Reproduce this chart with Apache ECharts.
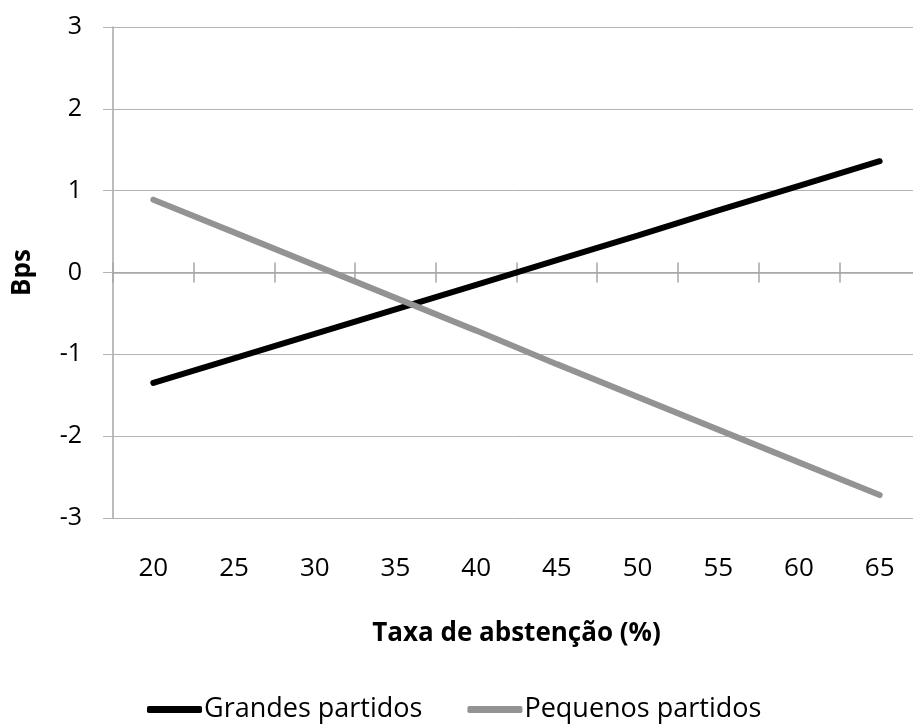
<!DOCTYPE html>
<html><head><meta charset="utf-8">
<script src="https://cdn.jsdelivr.net/npm/echarts@6/dist/echarts.min.js"></script>
<style>html,body{margin:0;padding:0;background:#fff}#c{width:913px;height:724px}</style>
</head><body><div id="c"></div>
<script>
const categories = ['20','25','30','35','40','45','50','55','60','65'];
const grandes = [-1.35, -1.05, -0.75, -0.45, -0.15, 0.15, 0.45, 0.76, 1.06, 1.36];
const pequenos = [0.89, 0.49, 0.09, -0.31, -0.71, -1.12, -1.52, -1.92, -2.32, -2.72];
const seriesNames = ['Grandes partidos', 'Pequenos partidos'];
const xTitle = 'Taxa de abstenção (%)';
const yTitle = 'Bps';

const FONT = 'Open Sans';
const chart = echarts.init(document.getElementById('c'));
const axisGray = '#a6a6a6';
chart.setOption({
  animation: false,
  grid: { left: 113, top: 27, width: 807, height: 491, containLabel: false, outerBoundsMode: 'none' },
  xAxis: [
    { type: 'category', data: categories, boundaryGap: true, position: 'bottom',
      axisLine: { onZero: true, lineStyle: { color: axisGray, width: 1.5 } },
      axisTick: { show: true, inside: false, length: 10, lineStyle: { color: axisGray, width: 1.5 } },
      axisLabel: { show: false }, splitLine: { show: false } },
    { type: 'category', data: categories, boundaryGap: true, position: 'bottom', offset: -245.5,
      axisLine: { show: false, onZero: false },
      axisTick: { show: true, inside: true, length: 10, lineStyle: { color: axisGray, width: 1.5 } },
      axisLabel: { show: false }, splitLine: { show: false } },
    { type: 'category', data: categories, boundaryGap: true, position: 'bottom',
      axisLine: { show: false, onZero: false }, axisTick: { show: false },
      axisLabel: { show: true, margin: 38, fontFamily: FONT, fontSize: 26, color: '#000' },
      name: xTitle, nameLocation: 'middle', nameGap: 103,
      nameTextStyle: { fontFamily: FONT, fontSize: 26, fontWeight: 'bold', color: '#000' },
      splitLine: { show: false } }
  ],
  yAxis: {
    type: 'value', min: -3, max: 3, interval: 1,
    axisLine: { show: true, lineStyle: { color: axisGray, width: 1.5 } },
    axisTick: { show: true, inside: false, length: 10, lineStyle: { color: '#b3b3b3', width: 1 } },
    axisLabel: { margin: 31, fontFamily: FONT, fontSize: 25, color: '#000' },
    splitLine: { show: true, lineStyle: { color: '#b3b3b3', width: 1 } },
    name: yTitle, nameLocation: 'middle', nameGap: 77, nameRotate: 90,
    nameTextStyle: { fontFamily: FONT, fontSize: 26, fontWeight: 'bold', color: '#000' }
  },
  legend: {
    bottom: -4, left: 142, itemWidth: 55, itemHeight: 7, itemGap: 45,
    icon: 'roundRect',
    textStyle: { fontFamily: FONT, fontSize: 27, color: '#000', padding: [0, 0, 0, -3] },
    data: seriesNames
  },
  series: [
    { name: seriesNames[0], type: 'line', data: grandes, xAxisIndex: 0, showSymbol: false, symbol: 'none',
      color: '#000', lineStyle: { color: '#000', width: 6, cap: 'round' } },
    { name: seriesNames[1], type: 'line', data: pequenos, xAxisIndex: 0, showSymbol: false, symbol: 'none',
      color: '#939393', lineStyle: { color: '#939393', width: 6, cap: 'round' } }
  ]
});
</script></body></html>
